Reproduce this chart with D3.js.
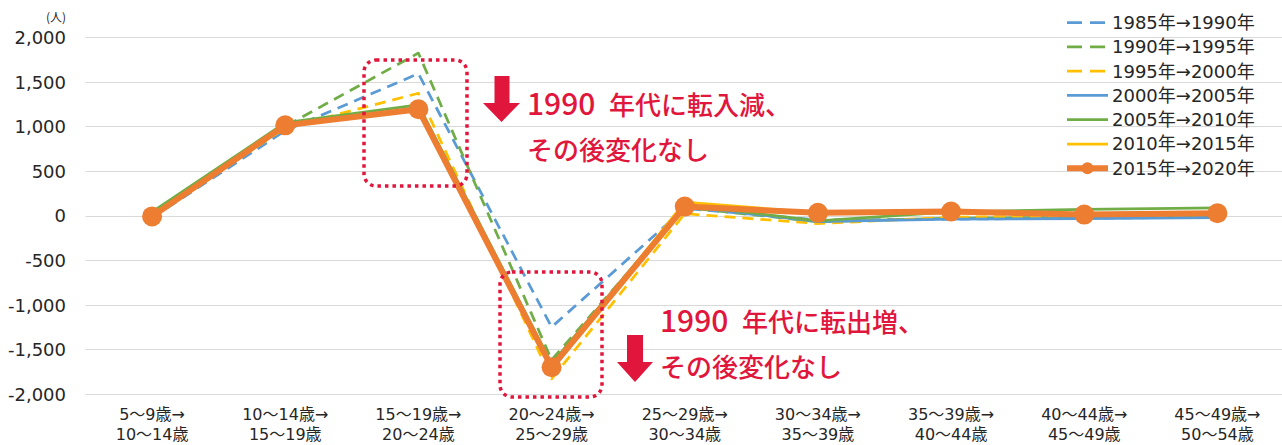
<!DOCTYPE html>
<html>
<head>
<meta charset="utf-8">
<script src="https://cdn.jsdelivr.net/npm/d3@7"></script>
<style>
  html, body { margin: 0; padding: 0; background: #fff; }
  svg { display: block; }
</style>
</head>
<body>
<svg id="chart" width="1282" height="445"></svg>
<script>
// ---- data ----
const categoriesTop = ["5～9歳→", "10～14歳→", "15～19歳→", "20～24歳→", "25～29歳→", "30～34歳→", "35～39歳→", "40～44歳→", "45～49歳→"];
const categoriesBottom = ["10～14歳", "15～19歳", "20～24歳", "25～29歳", "30～34歳", "35～39歳", "40～44歳", "45～49歳", "50～54歳"];
const seriesNames = ["1985年→1990年", "1990年→1995年", "1995年→2000年", "2000年→2005年", "2005年→2010年", "2010年→2015年", "2015年→2020年"];
const s1985 = [-25, 950, 1590, -1250, 80, -50, -40, -30, -20];
const s1990 = [0, 1000, 1820, -1620, 90, -70, -30, -20, 0];
const s1995 = [0, 980, 1370, -1830, 20, -90, -20, 0, 10];
const s2000 = [-10, 1000, 1210, -1680, 110, -70, -40, -35, -25];
const s2005 = [40, 1040, 1240, -1660, 120, -60, 40, 70, 85];
const s2010 = [10, 1000, 1200, -1720, 150, 30, 30, 10, 30];
const s2015 = [-10, 1010, 1190, -1700, 100, 30, 45, 10, 25];
const yTicks = [-2000, -1500, -1000, -500, 0, 500, 1000, 1500, 2000];

const colors = ["#5B9BD5", "#70AD47", "#FFC000", "#5B9BD5", "#70AD47", "#FFC000", "#ED7D31"];
const dashed = [true, true, true, false, false, false, false];
const allSeries = [s1985, s1990, s1995, s2000, s2005, s2010, s2015];

const svg = d3.select("#chart");
const red = "#E1163C";

const x = d3.scaleBand().domain(d3.range(categoriesTop.length)).range([85.5, 1284]).padding(0);
const cx = i => x(i) + x.bandwidth() / 2;
const y = d3.scaleLinear().domain([-2000, 2000]).range([394, 37]);

// gridlines
const grid = svg.append("g");
grid.selectAll("line").data(yTicks).join("line")
  .attr("x1", 85.5).attr("x2", 1282)
  .attr("y1", d => Math.round(y(d)) + 0.5).attr("y2", d => Math.round(y(d)) + 0.5)
  .attr("stroke", "#D9D9D9").attr("stroke-width", 1);

// y axis labels
const fmt = d3.format(",");
const yAxis = d3.axisLeft(y).tickValues(yTicks).tickSize(0).tickPadding(0)
  .tickFormat(d => fmt(d).replace("\u2212", "-"));
const ya = svg.append("g").attr("transform", "translate(66,0)").call(yAxis);
ya.select(".domain").remove();
ya.selectAll("text").attr("font-family", "'DejaVu Sans', sans-serif").attr("font-size", 18)
  .attr("fill", "#262626").attr("dy", "0.36em");

svg.append("text").attr("x", 66).attr("y", 22).attr("text-anchor", "end")
  .attr("font-family", "'Noto Sans CJK JP', sans-serif").attr("font-size", 12).attr("fill", "#262626")
  .text("(人)");

// x axis labels
const xl = svg.append("g").attr("font-family", "'DejaVu Sans', 'Noto Sans CJK JP', sans-serif")
  .attr("font-size", 16).attr("fill", "#262626").attr("text-anchor", "middle");
xl.selectAll("text.t").data(categoriesTop).join("text").attr("class", "t")
  .attr("x", (d, i) => cx(i)).attr("y", 420)
  .text(d => d);
xl.selectAll("text.b").data(categoriesBottom).join("text").attr("class", "b")
  .attr("x", (d, i) => cx(i)).attr("y", 440)
  .text(d => d);

// lines
const line = d3.line().x((d, i) => cx(i)).y(d => y(d));
allSeries.forEach((s, k) => {
  const last = k === allSeries.length - 1;
  svg.append("path").datum(s)
    .attr("d", line)
    .attr("fill", "none")
    .attr("stroke", colors[k])
    .attr("stroke-width", last ? 6 : 2.75)
    .attr("stroke-linejoin", "round")
    .attr("stroke-dasharray", dashed[k] ? "11 7" : null);
  if (last) {
    svg.append("g").selectAll("circle").data(s).join("circle")
      .attr("cx", (d, i) => cx(i)).attr("cy", d => y(d)).attr("r", 10)
      .attr("fill", colors[k]);
  }
});

// legend
const lg = svg.append("g");
seriesNames.forEach((name, k) => {
  const yy = 22.5 + k * 24.3;
  const last = k === seriesNames.length - 1;
  lg.append("line").attr("x1", 1067).attr("x2", 1108).attr("y1", yy).attr("y2", yy)
    .attr("stroke", colors[k]).attr("stroke-width", last ? 6 : 2.75)
    .attr("stroke-dasharray", dashed[k] ? "15 8" : null);
  if (last) lg.append("circle").attr("cx", 1087.5).attr("cy", yy).attr("r", 6).attr("fill", colors[k]);
  lg.append("text").attr("x", 1112).attr("y", yy).attr("dy", "0.36em")
    .attr("font-family", "'DejaVu Sans', 'Noto Sans CJK JP', sans-serif").attr("font-size", 18)
    .attr("fill", "#262626").text(name);
});

// annotations: dotted boxes
const boxes = [[364, 60, 103, 126], [500, 272, 102, 125]];
svg.append("g").selectAll("rect").data(boxes).join("rect")
  .attr("x", d => d[0]).attr("y", d => d[1]).attr("width", d => d[2]).attr("height", d => d[3])
  .attr("rx", 12).attr("ry", 12)
  .attr("fill", "none").attr("stroke", red).attr("stroke-width", 3.5).attr("stroke-dasharray", "3.5 4");

// arrows
function arrow(x0, x1, top, hx0, hx1, hy, tip) {
  const mx = (hx0 + hx1) / 2;
  return `M${x0},${top}L${x1},${top}L${x1},${hy}L${hx1},${hy}L${mx},${tip}L${hx0},${hy}L${x0},${hy}Z`;
}
svg.append("path").attr("d", arrow(494.5, 509.5, 76, 483, 520, 103, 122)).attr("fill", red);
svg.append("path").attr("d", arrow(627, 643, 335, 617, 653, 362, 382)).attr("fill", red);

// annotation texts
function annot(x0, yb, rest, line2) {
  const t = svg.append("text").attr("y", yb).attr("fill", red)
    .attr("font-family", "'Noto Sans CJK JP', sans-serif").attr("font-weight", 500);
  t.append("tspan").attr("x", x0).attr("font-size", 30).text("1990");
  t.append("tspan").attr("x", x0 + 82).attr("font-size", 26).text(rest);
  svg.append("text").attr("x", x0).attr("y", yb + 45).attr("fill", red)
    .attr("font-family", "'Noto Sans CJK JP', sans-serif").attr("font-weight", 500)
    .attr("font-size", 26).text(line2);
}
annot(527, 115, "年代に転入減、", "その後変化なし");
annot(660, 332, "年代に転出増、", "その後変化なし");
</script>
</body>
</html>
